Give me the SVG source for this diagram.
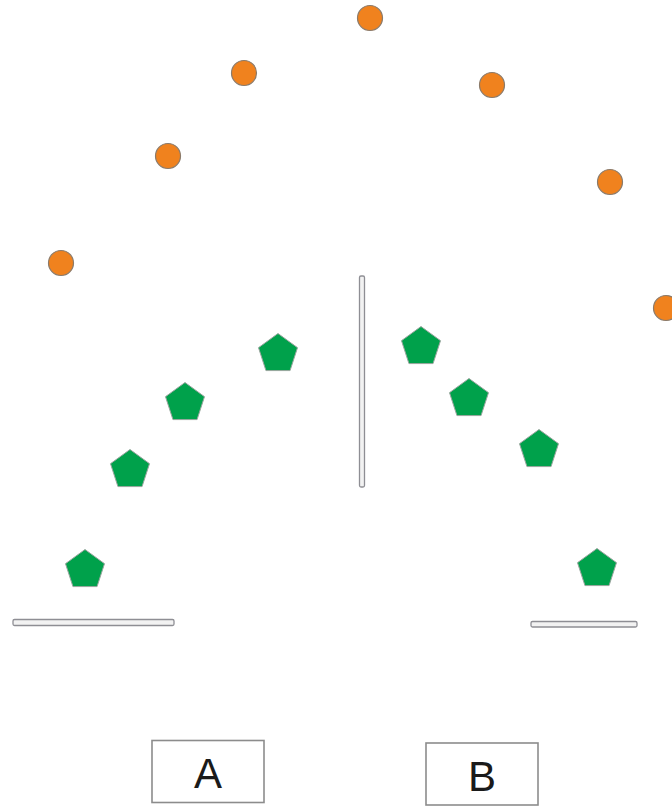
<svg xmlns="http://www.w3.org/2000/svg" xmlns:xlink="http://www.w3.org/1999/xlink" width="672" height="806" viewBox="0 0 672 806">
<style>
.ball{fill:#F0821E;stroke:#8a7a6a;stroke-width:1.2}
.pent{fill:#00A14B;stroke:#9aa59e;stroke-width:1}
.bar{fill:#f2f2f2;stroke:#8e8e94;stroke-width:1.3}
.box{fill:#ffffff;stroke:#8c8c8c;stroke-width:1.6}
.lbl{font-family:"Liberation Sans",Arial,sans-serif;font-size:42px;fill:#1a1a1a;text-anchor:middle}
</style>
<defs>
<polygon id="p" points="0,-20.5 19.5,-6.33 12.05,16.58 -12.05,16.58 -19.5,-6.33"/>
</defs>
<rect width="672" height="806" fill="#ffffff"/>
<g id="balls">
<circle class="ball" cx="370" cy="18" r="12.5"/>
<circle class="ball" cx="244" cy="73" r="12.5"/>
<circle class="ball" cx="168" cy="156" r="12.5"/>
<circle class="ball" cx="61" cy="263" r="12.5"/>
<circle class="ball" cx="492" cy="85" r="12.5"/>
<circle class="ball" cx="610" cy="182" r="12.5"/>
<circle class="ball" cx="666" cy="308" r="12.5"/>
</g>
<g id="pentagons">
<use xlink:href="#p" href="#p" class="pent" x="278" y="354"/>
<use xlink:href="#p" href="#p" class="pent" x="185" y="403"/>
<use xlink:href="#p" href="#p" class="pent" x="130" y="470"/>
<use xlink:href="#p" href="#p" class="pent" x="85" y="570"/>
<use xlink:href="#p" href="#p" class="pent" x="421" y="347"/>
<use xlink:href="#p" href="#p" class="pent" x="469" y="399"/>
<use xlink:href="#p" href="#p" class="pent" x="539" y="450"/>
<use xlink:href="#p" href="#p" class="pent" x="597" y="569"/>
</g>
<g id="bars">
<rect class="bar" x="359.5" y="276" width="5" height="211" rx="1.5"/>
<rect class="bar" x="13" y="619.5" width="161" height="6" rx="1.5"/>
<rect class="bar" x="531" y="621.5" width="106" height="5.5" rx="1.5"/>
</g>
<g id="nodeA">
<rect class="box" x="152" y="740.5" width="112" height="62"/>
<text class="lbl" x="208" y="788">A</text>
</g>
<g id="nodeB">
<rect class="box" x="426" y="743" width="112" height="62"/>
<text class="lbl" x="482" y="791">B</text>
</g>
<g id="connectors"/>
</svg>
